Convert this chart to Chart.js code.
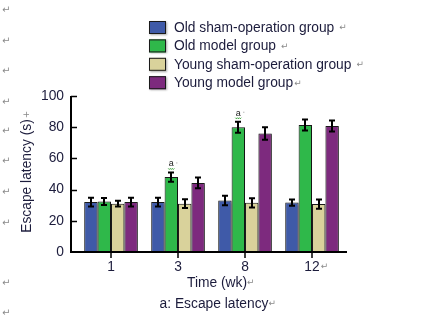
<!DOCTYPE html>
<html><head><meta charset="utf-8">
<script src="https://cdn.jsdelivr.net/npm/chart.js@4"></script>
<style>html,body{margin:0;padding:0;background:#fff}#wrap{width:421px;height:315px}</style>
</head><body><div id="wrap"><canvas id="c" width="421" height="315"></canvas></div>
<script>
const categories = ['1', '3', '8', '12'];
const seriesNames = ['Old sham-operation group', 'Old model group', 'Young sham-operation group', 'Young model group'];
const oldSham = [32, 32, 33, 31.7];
const oldModel = [32.4, 48, 80, 81.4];
const youngSham = [31, 31, 31.5, 30.7];
const youngModel = [32, 44.3, 76, 80.8];
const oldShamErr = [2.8, 2.8, 3, 2];
const oldModelErr = [2.2, 3, 3.5, 3.5];
const youngShamErr = [1.8, 2.8, 3, 3];
const youngModelErr = [2.8, 3.5, 4, 3.5];
const yTicks = [0, 20, 40, 60, 80, 100];
const markA = [false, true, true, false];

const colors = ['#3f5aa8', '#2fb84a', '#d9d29b', '#7d2a7e'];
const values = [oldSham, oldModel, youngSham, youngModel];
const errs = [oldShamErr, oldModelErr, youngShamErr, youngModelErr];
const FONT = '"Liberation Sans", Arial, sans-serif';
const FS = 13.8;
const TXT = '#1c1c3c';

const datasets = values.map((v, k) => ({
  label: seriesNames[k],
  data: v.map((y, i) => ({x: i, y})),
  backgroundColor: colors[k],
  borderColor: '#1a1a1a',
  borderWidth: 1,
  errs: errs[k],
  categoryPercentage: 0.8,
  barPercentage: 1
}));

const deco = {
  id: 'deco',
  beforeDatasetsDraw(chart) {
    const ctx = chart.ctx;
    ctx.save();
    ctx.shadowColor = 'rgba(0,0,0,0.35)';
    ctx.shadowBlur = 2;
    ctx.shadowOffsetX = 1;
    ctx.shadowOffsetY = 1;
  },
  afterDatasetsDraw(chart) {
    const ctx = chart.ctx;
    ctx.restore();
    const ys = chart.scales.y;
    ctx.save();
    ctx.strokeStyle = '#000';
    ctx.lineWidth = 2;
    chart.data.datasets.forEach((ds, k) => {
      const meta = chart.getDatasetMeta(k);
      meta.data.forEach((bar, i) => {
        const v = ds.data[i].y, e = ds.errs[i];
        const x = Math.round(bar.x);
        const t = ys.getPixelForValue(v + e), b = ys.getPixelForValue(v - e);
        const cw = 3;
        ctx.beginPath();
        ctx.moveTo(x, t); ctx.lineTo(x, b);
        ctx.moveTo(x - cw, t); ctx.lineTo(x + cw, t);
        ctx.moveTo(x - cw, b); ctx.lineTo(x + cw, b);
        ctx.stroke();
      });
    });
    const gm = chart.getDatasetMeta(1);
    ctx.font = '9px ' + FONT;
    ctx.textAlign = 'center';
    ctx.textBaseline = 'alphabetic';
    markA.forEach((m, i) => {
      if (!m) return;
      const bar = gm.data[i];
      const v = chart.data.datasets[1].data[i].y + chart.data.datasets[1].errs[i];
      const y = ys.getPixelForValue(v) - 6;
      ctx.fillStyle = '#222';
      ctx.fillText('a', bar.x, y);
      ctx.fillStyle = '#999';
      ctx.fillRect(bar.x + 5, y - 4, 1, 1);
      ctx.strokeStyle = '#2a9a2a';
      ctx.lineWidth = 1;
      ctx.beginPath();
      for (let j = 0; j <= 6; j++) {
        const px = bar.x - 3 + j, py = y + 2 + (j % 2);
        if (j === 0) ctx.moveTo(px, py); else ctx.lineTo(px, py);
      }
      ctx.stroke();
    });
    ctx.restore();
  },
  afterDraw(chart) {
    const ctx = chart.ctx, ca = chart.chartArea, ys = chart.scales.y, xs = chart.scales.x;
    ctx.save();
    ctx.strokeStyle = '#000';
    ctx.lineWidth = 2;
    ctx.beginPath();
    ctx.moveTo(ca.left, ca.top); ctx.lineTo(ca.left, ca.bottom + 1);
    ctx.moveTo(ca.left - 1, ca.bottom); ctx.lineTo(347, ca.bottom);
    ctx.stroke();
    ctx.lineWidth = 1.5;
    ctx.beginPath();
    yTicks.forEach(t => {
      if (t === 0) return;
      const y = Math.round(ys.getPixelForValue(t)) + 0.5;
      ctx.moveTo(ca.left, y); ctx.lineTo(ca.left + 6, y);
    });
    categories.forEach((c, i) => {
      const x = Math.round(xs.getPixelForValue(i));
      ctx.moveTo(x, ca.bottom); ctx.lineTo(x, ca.bottom + 6);
    });
    ctx.stroke();
    const lf = FS + 'px ' + FONT;
    ctx.fillStyle = TXT;
    ctx.font = lf;
    ctx.textBaseline = 'middle';
    ctx.textAlign = 'right';
    yTicks.forEach(t => ctx.fillText(String(t), 64, ys.getPixelForValue(t)));
    ctx.textAlign = 'center';
    categories.forEach((c, i) => {
      ctx.fillText(c, xs.getPixelForValue(i), 267);
    });
    ctx.fillText('Time (wk)', 217, 283);
    ctx.fillText('a: Escape latency', 214, 304);
    ctx.save();
    ctx.translate(27, 176);
    ctx.rotate(-Math.PI / 2);
    ctx.fillText('Escape latency (s)', 0, 0);
    ctx.restore();
    ctx.textAlign = 'left';
    chart.data.datasets.forEach((ds, k) => {
      const y = 27 + k * 18.4;
      ctx.save();
      ctx.shadowColor = 'rgba(0,0,0,0.35)';
      ctx.shadowBlur = 2;
      ctx.shadowOffsetX = 1; ctx.shadowOffsetY = 1;
      ctx.fillStyle = ds.backgroundColor;
      ctx.fillRect(149, y - 6, 17, 13);
      ctx.restore();
      ctx.strokeStyle = '#1a1a1a';
      ctx.lineWidth = 1;
      ctx.strokeRect(149.5, y - 5.5, 16, 12);
      ctx.fillStyle = TXT;
      ctx.font = lf;
      ctx.fillText(ds.label, 174, y + 1);
    });
    ctx.fillStyle = '#8a8a8a';
    ctx.font = '10px "DejaVu Sans", sans-serif';
    ctx.textAlign = 'left';
    [10, 41, 71, 102, 131, 161, 192, 223, 283, 313].forEach(y => ctx.fillText('\u21B5', 2, y));
    const measure = (s) => { ctx.font = lf; return ctx.measureText(s).width; };
    const marks = [];
    chart.data.datasets.forEach((ds, k) => {
      const w = measure(ds.label);
      marks.push([174 + w + (k === 3 ? 1 : 5), 27 + k * 18.4 + 1]);
    });
    marks.push([xs.getPixelForValue(3) + measure('12') / 2 + 1, 267]);
    marks.push([217 + measure('Time (wk)') / 2, 283]);
    marks.push([214 + measure('a: Escape latency') / 2, 304]);
    const ylw = measure('Escape latency (s)');
    ctx.font = '9px "DejaVu Sans", sans-serif';
    ctx.textBaseline = 'middle';
    marks.forEach(([x, y]) => ctx.fillText('\u21B5', x, y));
    ctx.save();
    ctx.translate(27, 176 - ylw / 2 - 1);
    ctx.rotate(-Math.PI / 2);
    ctx.textAlign = 'left';
    ctx.fillText('+', 0, 0);
    ctx.restore();
    ctx.restore();
  }
};

new Chart(document.getElementById('c'), {
  type: 'bar',
  data: {datasets},
  options: {
    responsive: false,
    animation: false,
    layout: {padding: {left: 0, top: 96, right: 74, bottom: 0}},
    plugins: {legend: {display: false}, tooltip: {enabled: false}},
    scales: {
      x: {
        type: 'linear',
        offset: false,
        min: -0.597, max: 3.522,
        grid: {display: false, offset: false},
        border: {display: false},
        ticks: {display: false},
        afterFit(s) { s.height = 63; }
      },
      y: {
        min: 0, max: 100,
        grid: {display: false},
        border: {display: false},
        afterBuildTicks(s) { s.ticks = yTicks.map(v => ({value: v})); },
        ticks: {display: false},
        afterFit(s) { s.width = 71; }
      }
    }
  },
  plugins: [deco]
});
</script></body></html>
